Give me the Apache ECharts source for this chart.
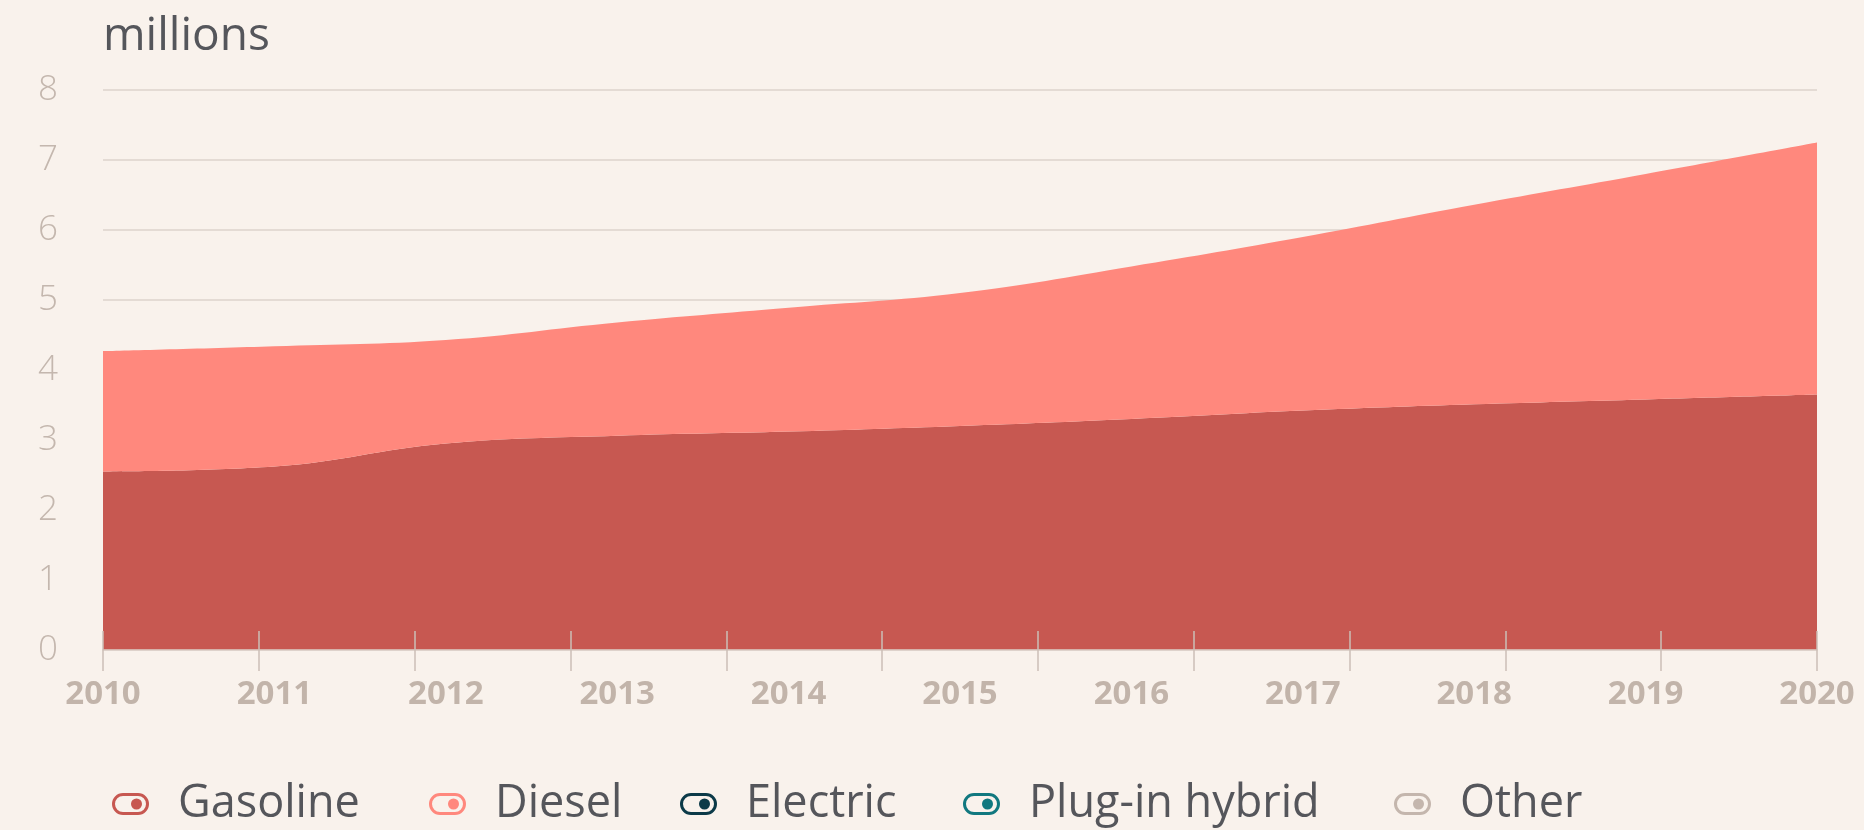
<!DOCTYPE html>
<html>
<head>
<meta charset="utf-8">
<script src="https://cdn.jsdelivr.net/npm/echarts@6/dist/echarts.min.js"></script>
<style>
html,body{margin:0;padding:0;background:#f9f2ec;}
#c{width:1864px;height:830px;}
</style>
</head>
<body>
<div id="c"></div>
<script>
const years = ['2010', '2011', '2012', '2013', '2014', '2015', '2016', '2017', '2018', '2019', '2020'];
const gasoline = [2.55, 2.62, 2.95, 3.06, 3.12, 3.20, 3.30, 3.42, 3.51, 3.58, 3.65];
const diesel = [1.72, 1.72, 1.48, 1.62, 1.77, 1.90, 2.18, 2.48, 2.85, 3.22, 3.60];
const electric = [0, 0, 0, 0, 0, 0, 0, 0, 0, 0, 0];
const pluginHybrid = [0, 0, 0, 0, 0, 0, 0, 0, 0, 0, 0];
const other = [0, 0, 0, 0, 0, 0, 0, 0, 0, 0, 0];
const seriesNames = ['Gasoline', 'Diesel', 'Electric', 'Plug-in hybrid', 'Other'];
const yTicks = [0, 1, 2, 3, 4, 5, 6, 7, 8];
const unitLabel = 'millions';

const colors = ['#c75851', '#ff887d', '#0c3a48', '#11787f', '#c4b6ad'];
const seriesData = [gasoline, diesel, electric, pluginHybrid, other];

const iconPath = 'path://M11,0 H26 A11,11 0 0 1 26,22 H11 A11,11 0 0 1 11,0 Z ' +
  'M11,3 A8,8 0 0 0 11,19 H26 A8,8 0 0 0 26,3 Z ' +
  'M19,11 A5.5,5.5 0 1 1 30,11 A5.5,5.5 0 1 1 19,11 Z';

const legendTextWidths = [251, 185, 217, 365, 140];

const chart = echarts.init(document.getElementById('c'), null, {renderer: 'canvas'});

const option = {
  backgroundColor: '#f9f2ec',
  animation: false,
  color: colors,
  graphic: [{
    type: 'text',
    left: 103,
    top: 14,
    style: {
      text: unitLabel,
      fill: '#55565b',
      font: '400 46px "Open Sans"'
    }
  }],
  legend: {
    left: 107,
    top: 774,
    itemGap: 0,
    icon: iconPath,
    itemWidth: 37,
    itemHeight: 22,
    data: seriesNames.map((n, i) => ({
      name: n,
      itemStyle: {color: colors[i], borderWidth: 0},
      textStyle: {width: legendTextWidths[i]}
    })),
    textStyle: {
      fontFamily: 'Open Sans',
      fontSize: 45,
      color: '#55565b',
      lineHeight: 50,
      padding: [0, 0, 0, 24]
    }
  },
  grid: {
    left: 103, right: 47, top: 90, bottom: 180,
    containLabel: false,
    outerBoundsMode: 'none'
  },
  xAxis: [{
    type: 'category',
    data: years,
    boundaryGap: false,
    splitLine: {show: false},
    axisTick: {show: false},
    axisLine: {show: true, lineStyle: {color: '#dccfc8', width: 1.5}},
    axisLabel: {
      margin: 28,
      interval: 0,
      color: '#c2b4aa',
      fontFamily: 'Open Sans',
      fontWeight: 700,
      fontSize: 33
    },
    z: 5
  }, {
    type: 'value', min: 0, max: 11, interval: 1, position: 'bottom',
    axisLine: {show: false}, axisLabel: {show: false}, splitLine: {show: false},
    axisTick: {show: true, inside: true, length: 19, lineStyle: {color: '#cbbfb6', width: 1.5}},
    z: 6
  }, {
    type: 'value', min: 0, max: 11, interval: 1, position: 'bottom',
    axisLine: {show: false}, axisLabel: {show: false}, splitLine: {show: false},
    axisTick: {show: true, inside: false, length: 21, lineStyle: {color: '#cbbfb6', width: 1.5}},
    z: 6
  }],
  yAxis: {
    type: 'value',
    min: yTicks[0],
    max: yTicks[yTicks.length - 1],
    interval: 1,
    axisLine: {show: false},
    axisTick: {show: false},
    splitLine: {show: true, lineStyle: {color: '#ddd3cc', width: 1.5}},
    axisLabel: {
      margin: 45,
      color: '#c4b7ae',
      fontFamily: 'Open Sans',
      fontWeight: 300,
      fontSize: 35
    }
  },
  series: seriesNames.map((n, i) => ({
    name: n,
    type: 'line',
    stack: 'total',
    xAxisIndex: 0,
    yAxisIndex: 0,
    smooth: 0.4,
    symbol: 'none',
    lineStyle: {width: 0},
    areaStyle: {color: colors[i], opacity: 1},
    itemStyle: {color: colors[i]},
    data: seriesData[i]
  }))
};
chart.setOption(option);
</script>
</body>
</html>
